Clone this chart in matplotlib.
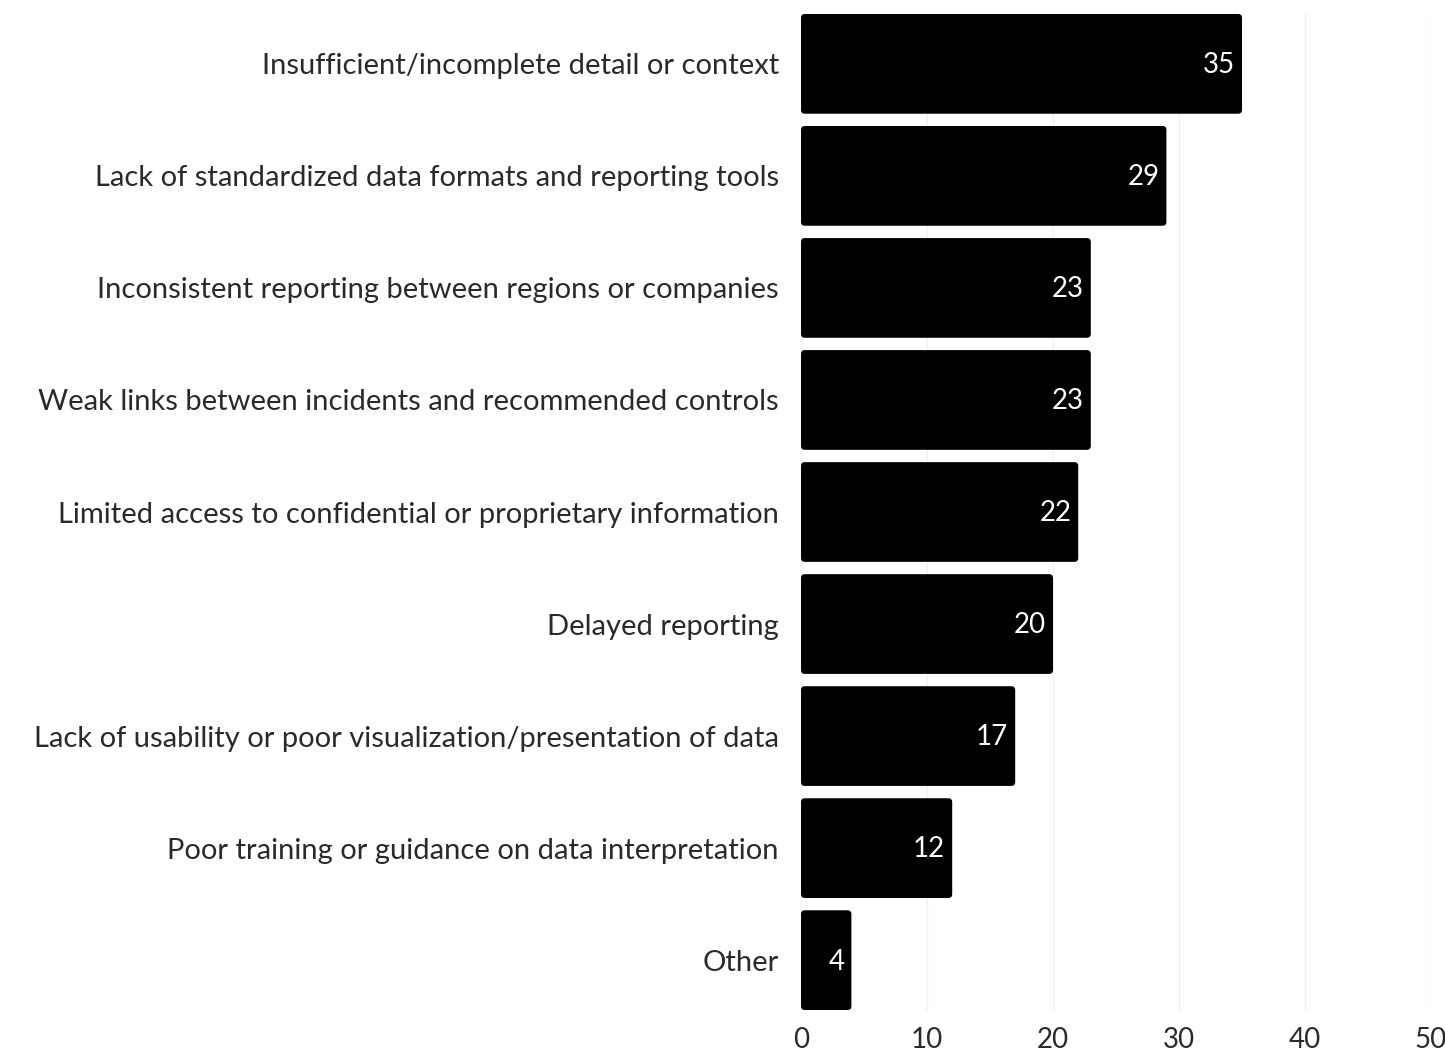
import matplotlib.pyplot as plt
from matplotlib.patches import FancyBboxPatch
import numpy as np

plt.rcParams['font.family'] = ['Lato', 'DejaVu Sans']

categories = [
    'Insufficient/incomplete detail or context',
    'Lack of standardized data formats and reporting tools',
    'Inconsistent reporting between regions or companies',
    'Weak links between incidents and recommended controls',
    'Limited access to confidential or proprietary information',
    'Delayed reporting',
    'Lack of usability or poor visualization/presentation of data',
    'Poor training or guidance on data interpretation',
    'Other',
]
counts = [35, 29, 23, 23, 22, 20, 17, 12, 4]
xticks = [0, 10, 20, 30, 40, 50]

fig = plt.figure(figsize=(14.45, 10.51), dpi=100)
ax = fig.add_axes([801 / 1445, 41 / 1051, 630 / 1445, 996 / 1051])

y = np.arange(len(categories))
bars = ax.barh(y, counts, height=0.89, color='black', zorder=3)

# swap plain bars for slightly rounded ones (same geometry)
for bar in bars:
    rb = FancyBboxPatch((bar.get_x(), bar.get_y()), bar.get_width(), bar.get_height(),
                        boxstyle='round,pad=0,rounding_size=0.3', mutation_aspect=0.115,
                        facecolor='black', edgecolor='none', zorder=3)
    ax.add_patch(rb)
    bar.set_visible(False)

for bar, v in zip(bars, counts):
    ax.annotate(str(v), (bar.get_width(), bar.get_y() + bar.get_height() / 2),
                xytext=(-5, -1), textcoords='offset points',
                ha='right', va='center', color='white', fontsize=20, zorder=4)

ax.set_xlim(0, 50)
ax.set_ylim(len(categories) - 1 + 0.445, -0.445)
ax.set_yticks(y)
ax.set_yticklabels(categories, fontsize=21, color='#2a2a2a')
ax.set_xticks(xticks)
ax.set_xticklabels([str(t) for t in xticks], fontsize=20, color='#2a2a2a')
ax.tick_params(axis='both', length=0)
ax.tick_params(axis='y', pad=16)
ax.tick_params(axis='x', pad=12)
ax.grid(axis='x', color='#f0f0f0', linewidth=1, zorder=0)
for s in ax.spines.values():
    s.set_visible(False)

fig.savefig('out.png', dpi=100)
